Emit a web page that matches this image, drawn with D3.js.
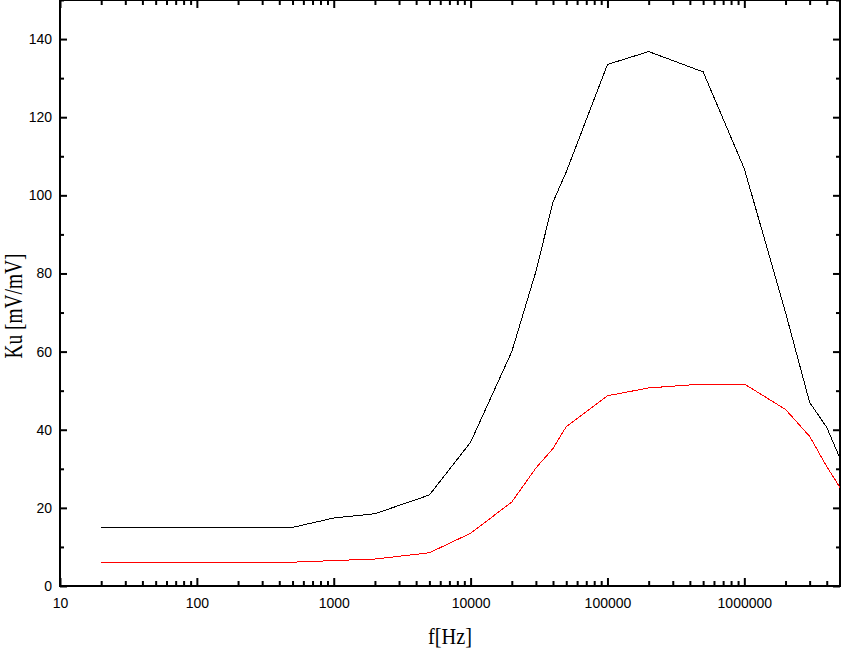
<!DOCTYPE html>
<html>
<head>
<meta charset="utf-8">
<script src="https://cdn.jsdelivr.net/npm/d3@7"></script>
<style>
  body { margin: 0; background: #fff; }
</style>
</head>
<body>
<div id="content"></div>
<script>
const width = 841;
const height = 650;
const plotLeft = 60;
const plotRight = 840;
const plotTop = 0;
const plotBottom = 586;

// frequency points [Hz]
const freq = [20, 500, 1000, 2000, 5000, 10000, 20000, 30000, 40000, 50000,
    100000, 200000, 500000, 1000000, 2000000, 3000000, 4000000, 5000000];
// gain Ku [mV/mV]
const kuBlack = [15, 15, 17.4, 18.5, 23.3, 36.8, 60, 80.5, 98.3, 106,
    133.5, 136.8, 131.6, 106.8, 70, 47, 40.6, 32.7];
const kuRed = [6.1, 6.1, 6.5, 6.9, 8.5, 13.5, 21.5, 30.2, 35.2, 40.8,
    48.7, 50.7, 51.7, 51.7, 45.2, 38.3, 30.6, 25.2];

const xTicks = [10, 100, 1000, 10000, 100000, 1000000];
const yTicks = [0, 20, 40, 60, 80, 100, 120, 140];
const yMinor = [10, 30, 50, 70, 90, 110, 130, 150];

const xMinor = [];
xTicks.forEach((d) => {
    for (let k = 2; k < 10; k++) {
        if (d * k <= 5000000) xMinor.push(d * k);
    }
});

const x = d3.scaleLog()
    .domain([10, 5000000])
    .range([plotLeft, plotRight]);

const y = d3.scaleLinear()
    .domain([0, 150])
    .range([plotBottom, plotTop]);

const fig = d3.select('#content')
    .append('svg')
    .attr('width', width)
    .attr('height', height)
    .style('display', 'block');

fig.append('rect')
    .attr('x', 0)
    .attr('y', 0)
    .attr('width', width)
    .attr('height', height)
    .attr('fill', '#fff');

// axes, ticks pointing inward
const axes = [
    [d3.axisBottom(x).tickValues(xTicks).tickFormat(d3.format('d')).tickSize(-8).tickPadding(12), 0, plotBottom],
    [d3.axisBottom(x).tickValues(xMinor).tickFormat('').tickSize(-5), 0, plotBottom],
    [d3.axisTop(x).tickValues(xTicks).tickFormat('').tickSize(-8), 0, plotTop],
    [d3.axisTop(x).tickValues(xMinor).tickFormat('').tickSize(-5), 0, plotTop],
    [d3.axisLeft(y).tickValues(yTicks).tickSize(-7).tickPadding(8), plotLeft, 0],
    [d3.axisLeft(y).tickValues(yMinor).tickFormat('').tickSize(-4), plotLeft, 0],
    [d3.axisRight(y).tickValues(yTicks).tickFormat('').tickSize(-7), plotRight, 0],
    [d3.axisRight(y).tickValues(yMinor).tickFormat('').tickSize(-4), plotRight, 0]
];

axes.forEach(([axis, tx, ty]) => {
    const g = fig.append('g')
        .attr('transform', `translate(${tx},${ty})`)
        .call(axis);
    g.select('.domain').remove();
    g.selectAll('.tick line')
        .attr('stroke', '#000')
        .attr('stroke-width', 2);
    g.selectAll('.tick text')
        .attr('fill', '#000')
        .attr('font-family', '"Liberation Sans", Arial, sans-serif')
        .attr('font-size', 14);
});

fig.append('rect')
    .attr('x', plotLeft)
    .attr('y', plotTop)
    .attr('width', plotRight - plotLeft)
    .attr('height', plotBottom - plotTop)
    .attr('fill', 'none')
    .attr('stroke', '#000')
    .attr('stroke-width', 2);

const line = d3.line()
    .x((d, i) => x(freq[i]))
    .y((d) => y(d));

fig.append('path')
    .datum(kuBlack)
    .attr('d', line)
    .attr('fill', 'none')
    .attr('stroke', '#000')
    .attr('stroke-width', 1)
    .attr('shape-rendering', 'crispEdges');

fig.append('path')
    .datum(kuRed)
    .attr('d', line)
    .attr('fill', 'none')
    .attr('stroke', '#ff0000')
    .attr('stroke-width', 1)
    .attr('shape-rendering', 'crispEdges');

// axis titles
fig.append('text')
    .attr('x', (plotLeft + plotRight) / 2)
    .attr('y', 644)
    .attr('text-anchor', 'middle')
    .attr('font-family', '"Liberation Serif", "Times New Roman", serif')
    .attr('font-size', 23)
    .attr('textLength', 44)
    .attr('lengthAdjust', 'spacingAndGlyphs')
    .text('f[Hz]');

fig.append('text')
    .attr('transform', 'translate(22,306) rotate(-90)')
    .attr('text-anchor', 'middle')
    .attr('font-family', '"Liberation Serif", "Times New Roman", serif')
    .attr('font-size', 25)
    .attr('textLength', 105)
    .attr('lengthAdjust', 'spacingAndGlyphs')
    .text('Ku [mV/mV]');
</script>
</body>
</html>
